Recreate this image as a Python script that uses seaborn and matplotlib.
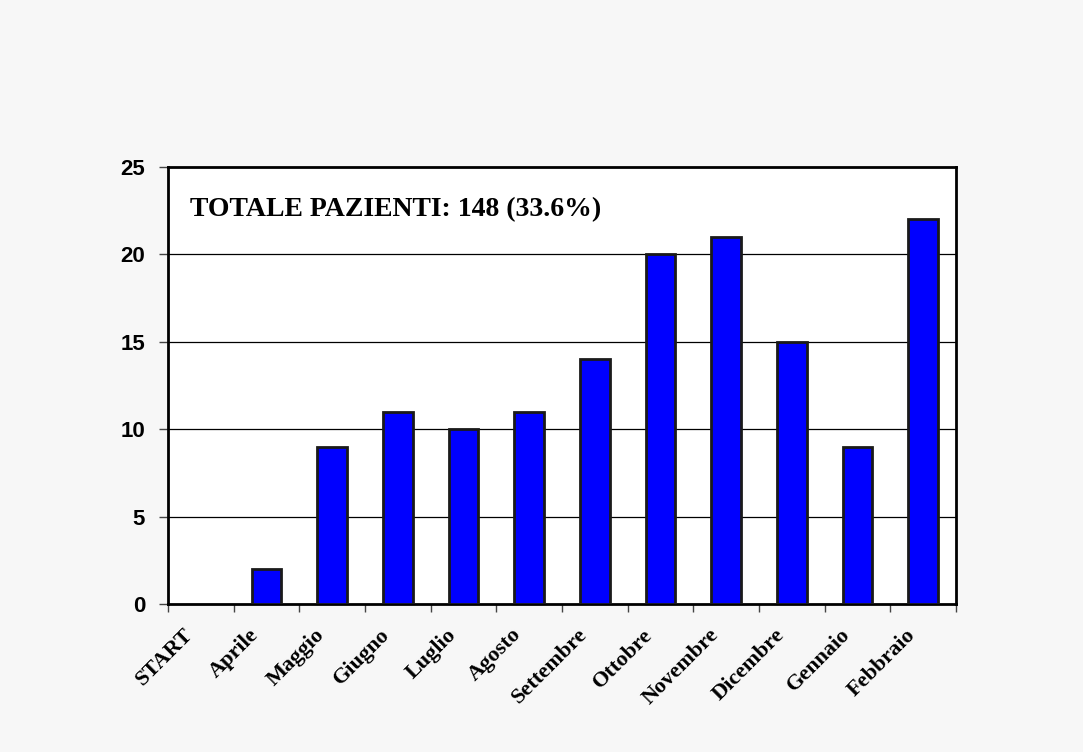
import matplotlib
matplotlib.use("Agg")
import matplotlib.pyplot as plt
import seaborn as sns
import pandas as pd
import numpy as np

months = ["START", "Aprile", "Maggio", "Giugno", "Luglio", "Agosto", "Settembre",
          "Ottobre", "Novembre", "Dicembre", "Gennaio", "Febbraio"]
patients = [0, 2, 9, 11, 10, 11, 14, 20, 21, 15, 9, 22]
y_ticks = [0, 5, 10, 15, 20, 25]
annotation = "TOTALE PAZIENTI: 148 (33.6%)"

sns.set_style("white")
plt.rcParams["text.color"] = "black"
bg = "#f7f7f7"
fig = plt.figure(figsize=(10.83, 7.52), dpi=100, facecolor=bg)
ax = fig.add_axes([0.1551, 0.1968, 0.7276, 0.5811])
ax.set_facecolor("white")

df = pd.DataFrame({"month": months, "patients": patients})
sns.barplot(data=df, x="month", y="patients", color="#0000ff", saturation=1,
            width=0.45, edgecolor="#1a1a1a", linewidth=2, ax=ax, zorder=3)

ax.set_xlim(-0.5, len(months) - 0.5)
ax.set_ylim(0, 25)
ax.set_yticks(y_ticks)
ax.set_yticklabels([str(v) for v in y_ticks], fontfamily="Liberation Sans",
                   fontweight="bold", fontsize=16, color="black")
for v in y_ticks[1:-1]:
    ax.axhline(v, color="black", linewidth=0.9, zorder=1)

# labels anchored slightly left of each category centre (as in the reference)
label_pos = np.arange(len(months)) - 0.27
ax.set_xticks(label_pos)
ax.set_xticklabels(months, rotation=45, ha="right", rotation_mode="anchor",
                   fontfamily="Liberation Serif", fontweight="bold", fontsize=16,
                   color="black")
ax.tick_params(axis="x", which="major", length=0, pad=15)
ax.set_xticks(np.arange(-0.5, len(months)), minor=True)
ax.tick_params(axis="x", which="minor", length=6, width=1, direction="out",
               color="#444444", bottom=True)
ax.tick_params(axis="y", length=6.5, width=1, direction="out", pad=10, left=True,
               color="#444444")

for s in ax.spines.values():
    s.set_visible(True)
    s.set_color("black")
    s.set_linewidth(2)

ax.set_xlabel("")
ax.set_ylabel("")
ax.text(0.028, 0.888, annotation, transform=ax.transAxes, va="baseline", ha="left",
        fontfamily="Liberation Serif", fontweight="bold", fontsize=20, color="black")

fig.savefig("out.png", dpi=100, facecolor=bg)
